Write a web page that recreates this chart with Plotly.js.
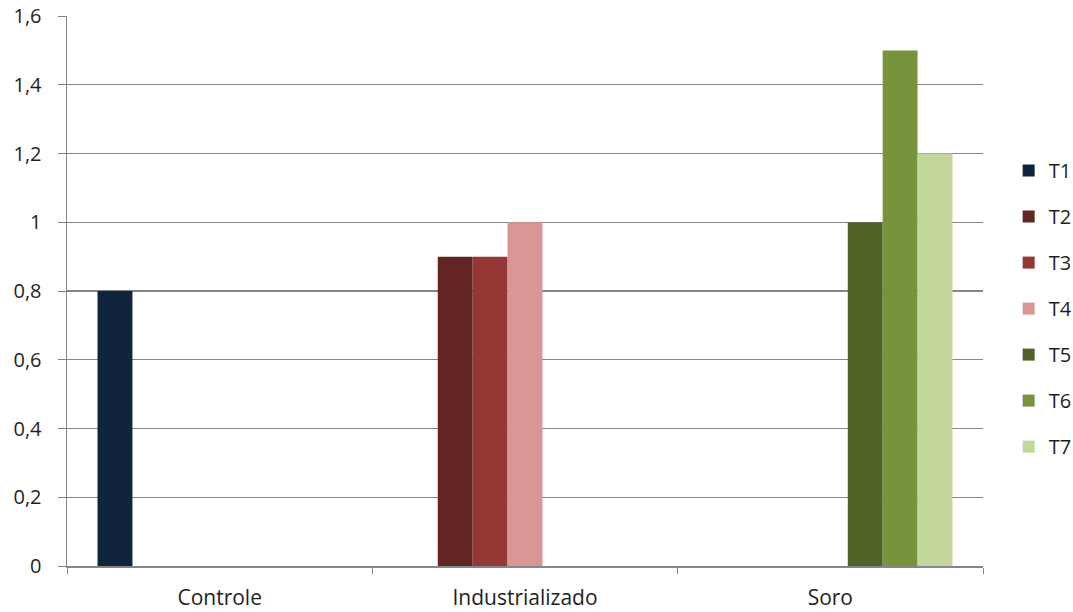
<!DOCTYPE html>
<html>
<head>
<meta charset="utf-8">
<script src="https://cdn.plot.ly/plotly-3.0.1.min.js"></script>
<style>
  html, body { margin: 0; padding: 0; background: #fff; }
  #chart { width: 1073px; height: 612px; }
</style>
</head>
<body>
<div id="chart"></div>
<script>
// Categories and one value per series (null where a series has no bar)
const categories = ["Controle", "Industrializado", "Soro"];
const seriesNames = ["T1", "T2", "T3", "T4", "T5", "T6", "T7"];
const T1 = [0.8, null, null];
const T2 = [null, 0.9, null];
const T3 = [null, 0.9, null];
const T4 = [null, 1.0, null];
const T5 = [null, null, 1.0];
const T6 = [null, null, 1.5];
const T7 = [null, null, 1.2];
const seriesValues = [T1, T2, T3, T4, T5, T6, T7];
const seriesColors = ["#10243E", "#632523", "#953735", "#D99694", "#4F6228", "#77933C", "#C3D69B"];

const font = "'Open Sans', 'Noto Sans', sans-serif";
const textColor = "#1f1f1f";

const traces = seriesNames.map((name, i) => ({
  type: "bar",
  name: name,
  x: categories,
  y: seriesValues[i],
  legendgroup: name,
  marker: { color: seriesColors[i], line: { width: 0 } },
  hoverinfo: "x+y+name"
}));

const layout = {
  width: 1073,
  height: 612,
  margin: { l: 67, r: 90, t: 16, b: 46, autoexpand: false },
  paper_bgcolor: "#ffffff",
  plot_bgcolor: "#ffffff",
  separators: ",.",
  barmode: "group",
  bargap: 0.2,
  bargroupgap: 0,
  font: { family: font, size: 20, color: textColor },
  showlegend: true,
  legend: {
    x: 1.028, xanchor: "left",
    y: 0.468, yanchor: "middle",
    tracegroupgap: 17,
    font: { family: font, size: 20, color: textColor },
    itemwidth: 30
  },
  xaxis: {
    type: "category",
    tickson: "boundaries",
    ticks: "outside",
    ticklen: 6,
    tickcolor: "#868686",
    ticklabelstandoff: 12,
    showline: true,
    linecolor: "#868686",
    linewidth: 1.5,
    showgrid: false,
    tickfont: { family: font, size: 21, color: textColor },
    fixedrange: true
  },
  yaxis: {
    range: [0, 1.6],
    dtick: 0.2,
    tick0: 0,
    ticks: "outside",
    ticklen: 8,
    tickcolor: "#868686",
    ticklabelstandoff: 12,
    showline: true,
    linecolor: "#868686",
    linewidth: 1.5,
    showgrid: true,
    gridcolor: "#868686",
    gridwidth: 1.2,
    zeroline: false,
    tickfont: { family: font, size: 20, color: textColor },
    fixedrange: true
  }
};

Plotly.newPlot("chart", traces, layout, { displayModeBar: false, staticPlot: true });
</script>
</body>
</html>
